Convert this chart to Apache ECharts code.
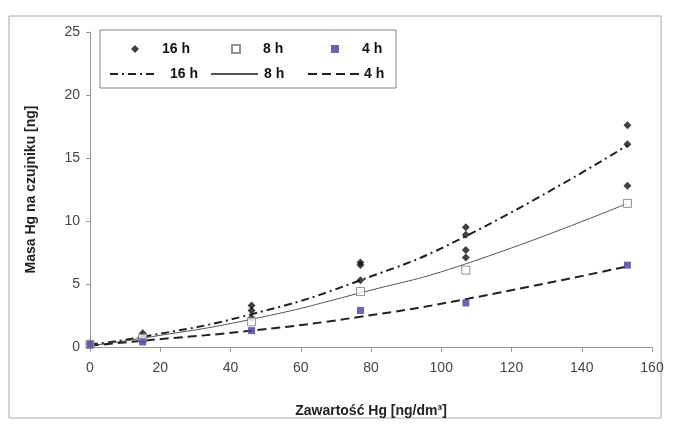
<!DOCTYPE html>
<html><head><meta charset="utf-8">
<script src="https://cdn.jsdelivr.net/npm/echarts@6/dist/echarts.min.js"></script>
<style>html,body{margin:0;padding:0;background:#fff}#c{width:678px;height:429px}</style>
</head><body><div id="c"></div>
<script>
// x positions of measurements (ng/dm3)
const xVals = [0, 15, 46, 77, 107, 153];
// 16 h measured points [x, y]
const pts16 = [[0,0.3],[15,1.1],[15,0.8],[46,3.3],[46,2.9],[46,2.3],[77,6.7],[77,6.5],[77,5.3],[107,9.5],[107,8.9],[107,7.7],[107,7.1],[153,17.6],[153,16.1],[153,12.8]];
// 8 h measured points
const pts8 = [[0,0.2],[15,0.7],[46,2.0],[77,4.4],[107,6.1],[153,11.4]];
// 4 h measured points
const pts4 = [[0,0.2],[15,0.4],[46,1.3],[77,2.9],[107,3.5],[153,6.5]];
// trend lines read at the measurement x positions
const trend16 = [0.2, 0.8, 2.6, 5.3, 8.8, 16.0];
const trend8 = [0.1, 0.7, 2.2, 4.3, 6.6, 11.4];
const trend4 = [0.1, 0.5, 1.3, 2.4, 3.8, 6.4];
const xTicks = [0, 20, 40, 60, 80, 100, 120, 140, 160];
const yTicks = [0, 5, 10, 15, 20, 25];
const pointNames = ['16 h', '8 h', '4 h'];
const lineNames = ['16 h ', '8 h ', '4 h '];

const pair = (arr) => xVals.map((x, i) => [x, arr[i]]);
const font = 'Liberation Sans, Arial, sans-serif';
const chart = echarts.init(document.getElementById('c'), null, {renderer: 'canvas'});
const legText = {fontFamily: font, fontSize: 14, fontWeight: 'bold', color: '#111'};

// legend layout (positions only)
const row1Left = [126, 226, 326];
const row2 = [{left: 104, w: 44, pad: 11}, {left: 205, w: 47, pad: 1}, {left: 302, w: 51, pad: 0}];
const legends = [];
pointNames.forEach((n, i) => legends.push({
  left: row1Left[i], top: 37, data: [n], itemWidth: 8, itemHeight: 8, selectedMode: false,
  formatter: s => s.trim(), textStyle: Object.assign({padding: [0, 0, 0, 18]}, legText)
}));
lineNames.forEach((n, i) => legends.push({
  left: row2[i].left, top: 62, data: [n], itemWidth: row2[i].w, itemHeight: 9, selectedMode: false,
  itemStyle: {opacity: 0},
  formatter: s => s.trim(), textStyle: Object.assign({padding: [0, 0, 0, row2[i].pad]}, legText)
}));

chart.setOption({
  animation: false,
  backgroundColor: '#fff',
  graphic: [
    {type: 'rect', shape: {x: 9, y: 16, width: 652, height: 402}, style: {fill: 'none', stroke: '#aaa', lineWidth: 1}, z: -1},
    {type: 'rect', shape: {x: 100, y: 30, width: 296, height: 58}, style: {fill: '#fff', stroke: '#888', lineWidth: 1}, z: 1}
  ],
  grid: {left: 90, right: 26, top: 32, bottom: 82},
  legend: legends,
  xAxis: {
    type: 'value', min: 0, max: 160, interval: 20,
    name: 'Zawartość Hg [ng/dm³]', nameLocation: 'middle', nameGap: 57,
    nameTextStyle: {fontFamily: font, fontSize: 14, fontWeight: 'bold', color: '#222'},
    axisLine: {lineStyle: {color: '#999'}}, axisTick: {show: true, length: 5, lineStyle: {color: '#999'}},
    axisLabel: {fontFamily: font, fontSize: 14, color: '#444', margin: 14, formatter: v => xTicks.includes(v) ? String(v) : ''},
    splitLine: {show: false}
  },
  yAxis: {
    type: 'value', min: 0, max: 25, interval: 5,
    name: 'Masa Hg na czujniku [ng]', nameLocation: 'middle', nameGap: 52,
    nameTextStyle: {fontFamily: font, fontSize: 14, fontWeight: 'bold', color: '#222'},
    axisLine: {show: true, lineStyle: {color: '#999'}}, axisTick: {show: true, length: 4, lineStyle: {color: '#999'}},
    axisLabel: {fontFamily: font, fontSize: 14, color: '#444', margin: 10, formatter: v => yTicks.includes(v) ? String(v) : ''},
    splitLine: {show: false}
  },
  series: [
    {name: pointNames[0], type: 'scatter', data: pts16, symbol: 'diamond', symbolSize: 8, itemStyle: {color: '#111'}, z: 5},
    {name: pointNames[1], type: 'scatter', data: pts8, symbol: 'rect', symbolSize: 8, itemStyle: {color: '#fff', borderColor: '#777', borderWidth: 1}, z: 5},
    {name: pointNames[2], type: 'scatter', data: pts4, symbol: 'rect', symbolSize: 7, itemStyle: {color: '#4b3a9c'}, z: 5},
    {name: lineNames[0], type: 'line', data: pair(trend16), smooth: true, symbol: 'none', itemStyle: {color: '#222'}, lineStyle: {color: '#222', width: 2, type: [8, 4, 2, 4]}, z: 3},
    {name: lineNames[1], type: 'line', data: pair(trend8), smooth: true, symbol: 'none', itemStyle: {color: '#555'}, lineStyle: {color: '#555', width: 1, type: 'solid'}, z: 3},
    {name: lineNames[2], type: 'line', data: pair(trend4), smooth: true, symbol: 'none', itemStyle: {color: '#222'}, lineStyle: {color: '#222', width: 2, type: [9, 5]}, z: 3}
  ]
});
</script></body></html>
